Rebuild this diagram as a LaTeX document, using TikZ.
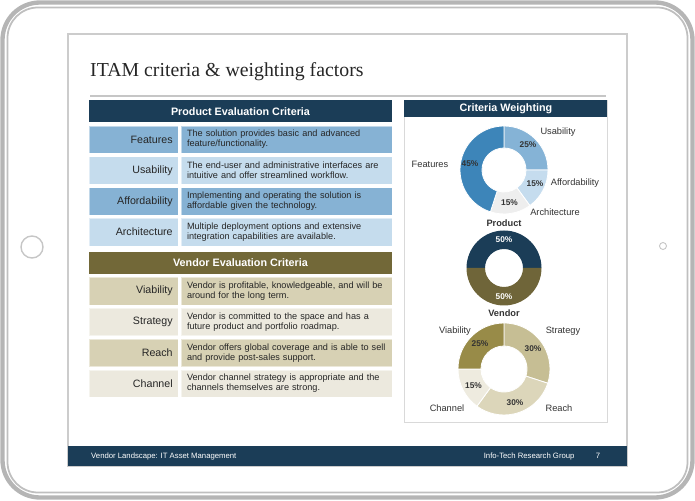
\documentclass[tikz,border=0pt]{standalone}
\usepackage{fontspec}
\setmainfont{Liberation Sans}
\newfontfamily\titlefont{Liberation Serif}
\usetikzlibrary{positioning,calc}

\definecolor{navy}{RGB}{27,61,87}
\definecolor{olivehead}{RGB}{114,104,56}
\definecolor{olivedark}{RGB}{111,101,57}
\definecolor{prodmid}{RGB}{134,178,212}
\definecolor{prodpale}{RGB}{197,220,237}
\definecolor{vendmid}{RGB}{215,209,180}
\definecolor{vendpale}{RGB}{236,233,222}
\definecolor{piefeat}{RGB}{61,133,185}
\definecolor{pieusab}{RGB}{133,179,214}
\definecolor{pieaff}{RGB}{197,220,238}
\definecolor{piearch}{RGB}{238,238,238}
\definecolor{pieviab}{RGB}{152,139,72}
\definecolor{piestrat}{RGB}{198,190,148}
\definecolor{piereach}{RGB}{220,214,186}
\definecolor{piechan}{RGB}{238,235,223}

% no hyphens in the table text
\newcommand{\nohyph}{\hyphenpenalty10000\exhyphenpenalty10000\relax}
% one piece of a ring: [edge], centre, outer, inner, start, end, colour
\newcommand{\ringslice}[7][white]{%
  \fill[fill=#7, draw=#1, line width=0.7pt] ($(#2)+(#5:#3)$) arc[start angle=#5, end angle=#6, radius=#3]
    -- ($(#2)+(#6:#4)$) arc[start angle=#6, end angle=#5, radius=#4] -- cycle;}

\begin{document}
\begin{tikzpicture}[x=0.03cm, y=0.03cm,
  headbox/.style={fill=navy, text=white, font=\fontsize{9.2}{10}\selectfont\bfseries, minimum width=9.09cm, minimum height=0.675cm, inner sep=0pt, outer sep=0pt},
  keybox/.style={text width=2.35cm, align=right, inner xsep=0.16cm, inner ysep=0pt, minimum height=0.825cm, outer sep=0pt, draw=white, draw opacity=0.5, line width=0.5pt, font=\fontsize{9.1}{10}\selectfont, text=black!85},
  textbox/.style={text width=5.97cm, align=left, inner xsep=0.18cm, inner ysep=0pt, minimum height=0.825cm, outer sep=0pt, draw=white, draw opacity=0.5, line width=0.5pt, font=\fontsize{7.8}{8.6}\selectfont\nohyph, text=black!85},
  foottext/.style={text=white, font=\fontsize{6.6}{8}\selectfont, inner sep=0pt},
  pielabel/.style={font=\fontsize{7.9}{9}\selectfont, text=black!80, inner sep=0pt},
  pct/.style={font=\fontsize{7.1}{8}\selectfont\bfseries, text=black!80, inner sep=0pt}]
  \useasboundingbox (0,0) rectangle (695,500);
  % Tablet frame
  \draw[gray!58, line width=3.7pt, rounded corners=32pt] (2.5,2.5) rectangle (692.5,497.5);
  \draw[gray!50, line width=1.5pt, rounded corners=26pt] (7.5,7.5) rectangle (687.5,492.5);
  \draw[gray!45, line width=1.2pt] (32,253) circle (11);
  \draw[gray!45, line width=0.8pt] (663,254) circle (3.5);
  \draw[gray!40, line width=1.5pt] (68,34) rectangle (627,466);
  % Title
  \node[anchor=base west, font=\titlefont\fontsize{16.9}{20}\selectfont, text=black!85, inner sep=0pt] (title) at (90,423) {ITAM criteria \& weighting factors};
  \draw[gray!45, line width=1.5pt] (90,404) -- (606,404);
  % Product criteria
  \node[headbox, anchor=north west] (prodhead) at (89,400) {Product Evaluation Criteria};
  \node[keybox, fill=prodmid, below right=0.1cm and 0cm of prodhead.south west] (features) {Features};
  \node[textbox, fill=prodmid, right=0.09cm of features] (featurestxt) {The solution provides basic and advanced feature/functionality.};
  \node[keybox, fill=prodpale, below=0.1cm of features] (usability) {Usability};
  \node[textbox, fill=prodpale, right=0.09cm of usability] (usabilitytxt) {The end-user and administrative interfaces are intuitive and offer streamlined workflow.};
  \node[keybox, fill=prodmid, below=0.1cm of usability] (affordability) {Affordability};
  \node[textbox, fill=prodmid, right=0.09cm of affordability] (affordabilitytxt) {Implementing and operating the solution is affordable given the technology.};
  \node[keybox, fill=prodpale, below=0.1cm of affordability] (architecture) {Architecture};
  \node[textbox, fill=prodpale, right=0.09cm of architecture] (architecturetxt) {Multiple deployment options and extensive integration capabilities are available.};
  % Vendor criteria
  \node[headbox, fill=olivehead, below right=0.17cm and 0cm of architecture.south west] (vendhead) {Vendor Evaluation Criteria};
  \node[keybox, fill=vendmid, below right=0.1cm and 0cm of vendhead.south west] (viability) {Viability};
  \node[textbox, fill=vendmid, right=0.09cm of viability] (viabilitytxt) {Vendor is profitable, knowledgeable, and will be around for the long term.};
  \node[keybox, fill=vendpale, below=0.1cm of viability] (strategy) {Strategy};
  \node[textbox, fill=vendpale, right=0.09cm of strategy] (strategytxt) {Vendor is committed to the space and has a future product and portfolio roadmap.};
  \node[keybox, fill=vendmid, below=0.1cm of strategy] (reach) {Reach};
  \node[textbox, fill=vendmid, right=0.09cm of reach] (reachtxt) {Vendor offers global coverage and is able to sell and provide post-sales support.};
  \node[keybox, fill=vendpale, below=0.1cm of reach] (channel) {Channel};
  \node[textbox, fill=vendpale, right=0.09cm of channel] (channeltxt) {Vendor channel strategy is appropriate and the channels themselves are strong.};
  % Weighting panel
  \node[draw=gray!30, line width=0.8pt, minimum width=6.09cm, minimum height=9.66cm, anchor=north west, inner sep=0pt] (panel) at (404,400) {};
  \node[headbox, minimum width=6.09cm, minimum height=0.525cm, anchor=north] (weighthead) at (panel.north) {Criteria Weighting};
  % Product ring
  \coordinate (prodpie) at (504,330);
  \ringslice{prodpie}{44}{22}{90}{0}{pieusab}
  \ringslice{prodpie}{44}{22}{0}{-54}{pieaff}
  \ringslice{prodpie}{44}{22}{-54}{-108}{piearch}
  \ringslice{prodpie}{44}{22}{-108}{-270}{piefeat}
  \node[pielabel] (usablab) at (558,368) {Usability};
  \node[pct] (usabpct) at (528,355) {25\%};
  \node[pielabel] (featlab) at (430,336) {Features};
  \node[pct] (featpct) at (470,336) {45\%};
  \node[pct] (affpct) at (535,316) {15\%};
  \node[pielabel] (afflab) at (575,317) {Affordability};
  \node[pct] (archpct) at (509.5,297.5) {15\%};
  \node[pielabel] (archlab) at (555,288) {Architecture};
  \node[pielabel, font=\fontsize{7.9}{9}\selectfont\bfseries] (prodlab) at (504,277) {Product};
  % Product / vendor ring
  \coordinate (splitpie) at (504,232);
  \ringslice[none]{splitpie}{37.5}{19}{0}{180}{navy}
  \ringslice[none]{splitpie}{37.5}{19}{180}{360}{olivedark}
  \node[pct, text=white] (toppct) at (504,260) {50\%};
  \node[pct, text=white] (botpct) at (504,203.5) {50\%};
  \node[pielabel, font=\fontsize{7.9}{9}\selectfont\bfseries] (vendlab) at (504,187) {Vendor};
  % Vendor ring
  \coordinate (vendpie) at (504,131);
  \ringslice{vendpie}{46}{23}{90}{-18}{piestrat}
  \ringslice{vendpie}{46}{23}{-18}{-126}{piereach}
  \ringslice{vendpie}{46}{23}{-126}{-180}{piechan}
  \ringslice{vendpie}{46}{23}{180}{90}{pieviab}
  \node[pielabel] (viablab) at (455,169) {Viability};
  \node[pct] (viabpct) at (480,156) {25\%};
  \node[pielabel] (stratlab) at (563,169) {Strategy};
  \node[pct] (stratpct) at (533,151) {30\%};
  \node[pct] (chanpct) at (473.5,114.5) {15\%};
  \node[pct] (reachpct) at (515,97.5) {30\%};
  \node[pielabel] (chanlab) at (447,92) {Channel};
  \node[pielabel] (reachlab) at (559,92) {Reach};
  % Footer
  \node[fill=navy, minimum width=16.77cm, minimum height=0.585cm, anchor=south west, inner sep=0pt] (footer) at (68,34) {};
  \node[foottext, right=0.69cm of footer.west] (footleft) {Vendor Landscape: IT Asset Management};
  \node[foottext, left=0.81cm of footer.east] (pagenum) {7};
  \node[foottext, left=0.63cm of pagenum.west] (company) {Info-Tech Research Group};
\end{tikzpicture}
\end{document}
